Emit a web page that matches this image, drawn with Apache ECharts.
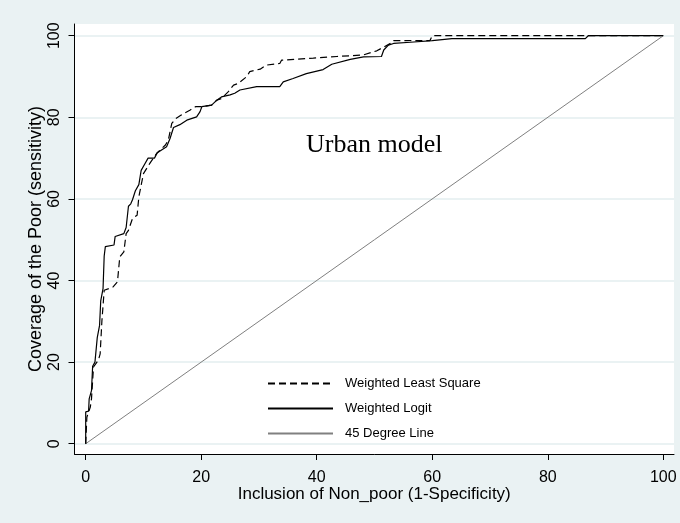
<!DOCTYPE html>
<html>
<head>
<meta charset="utf-8">
<script src="https://cdn.jsdelivr.net/npm/echarts@6/dist/echarts.min.js"></script>
<style>html,body{margin:0;padding:0;background:#eaf2f3;}#c{width:680px;height:523px;}</style>
</head>
<body>
<div id="c"></div>
<script>
const xTicks = [0, 20, 40, 60, 80, 100];
const yTicks = [0, 20, 40, 60, 80, 100];
const seriesNames = ['Weighted Least Square', 'Weighted Logit', '45 Degree Line'];

const wlsX = [0, 0.2, 0.8, 1, 1.35, 2.2, 2.5, 2.8, 3.2, 4.7, 5.5, 5.9, 6.6, 7, 7.4, 8.1, 8.9, 9.2, 10, 11.1, 12.3, 13.8, 14.3, 14.9, 15.6, 16.6, 18.1, 19, 20.1, 21.8, 22.7, 23.5, 24.7, 25.6, 26.4, 27.9, 28.4, 30.2, 31.3, 33.6, 33.9, 39.4, 43.5, 48.1, 50.4, 53, 53.3, 59.6, 60, 100];
const wlsY = [0, 6.5, 9, 11, 18.8, 20.5, 22, 30, 37.6, 38.4, 39.7, 45.8, 47, 51.5, 52.3, 55.2, 56, 60.5, 66.2, 68.7, 71.2, 73.2, 74.4, 78.5, 79.7, 80.6, 81.8, 82.6, 82.6, 83, 84.2, 84.6, 86.3, 87.9, 88.3, 90, 91.2, 91.8, 92.8, 93.2, 94, 94.5, 94.9, 95.3, 96.3, 98.3, 98.8, 98.8, 100, 100];

const logitX = [0, 0, 0.5, 0.6, 1, 1.2, 1.6, 2, 2.4, 2.6, 3, 3.2, 3.4, 4.9, 5.1, 6.6, 7, 7.4, 7.8, 8.1, 8.6, 9.2, 9.6, 10.2, 10.8, 11.9, 12.4, 14, 14.6, 15.2, 16.3, 17.5, 19.2, 19.8, 20.1, 21.8, 22.7, 23.5, 25, 25.8, 26.7, 29.6, 33.6, 34.2, 35.9, 38.2, 41.1, 42.6, 45.8, 48.1, 51.2, 51.6, 52.4, 53.3, 56.2, 60, 63.4, 86.5, 87, 100];
const logitY = [0, 7.8, 8, 11, 13, 19, 20, 26, 29, 35, 38, 46, 48.3, 48.7, 50.8, 51.5, 53, 58.2, 58.8, 59.8, 62, 63.5, 67, 68.5, 70, 70, 71.3, 72.8, 74.8, 77.5, 78.2, 79.3, 80.1, 81.4, 82.6, 83, 84.2, 85, 85.5, 85.9, 86.7, 87.5, 87.5, 88.7, 89.5, 90.7, 91.7, 93, 94.2, 94.8, 94.9, 96.5, 97.7, 98.1, 98.4, 98.8, 99.3, 99.3, 100, 100];

const diagX = [0, 100];
const diagY = [0, 100];

const zip = (xs, ys) => xs.map((x, i) => [x, ys[i]]);
const FONT = '"Liberation Sans", Arial, sans-serif';

const chart = echarts.init(document.getElementById('c'), null, {renderer: 'canvas'});
chart.setOption({
  backgroundColor: '#eaf2f3',
  animation: false,
  grid: {left: 74.5, right: 6, top: 24, bottom: 69, show: true, backgroundColor: '#ffffff', borderWidth: 0, containLabel: false},
  xAxis: {
    type: 'value', min: -1.94, max: 101.85,
    name: 'Inclusion of Non_poor (1-Specificity)', nameLocation: 'middle', nameGap: 32, nameMoveOverlap: false,
    nameTextStyle: {fontFamily: FONT, fontSize: 17, color: '#000'},
    axisLine: {show: true, onZero: false, lineStyle: {color: '#000', width: 1}},
    axisTick: {show: true, length: 6, inside: false, customValues: xTicks, lineStyle: {color: '#000'}},
    axisLabel: {customValues: xTicks, fontFamily: FONT, fontSize: 16, color: '#000', margin: 16},
    splitLine: {show: false}
  },
  yAxis: {
    type: 'value', min: -2.52, max: 102.87,
    name: 'Coverage of the Poor (sensitivity)', nameLocation: 'middle', nameGap: 29, nameMoveOverlap: false,
    nameTextStyle: {fontFamily: FONT, fontSize: 18, color: '#000'},
    axisLine: {show: true, onZero: false, lineStyle: {color: '#000', width: 1}},
    axisTick: {show: true, length: 6, inside: false, customValues: yTicks, lineStyle: {color: '#000'}},
    axisLabel: {customValues: yTicks, rotate: 90, fontFamily: FONT, fontSize: 16, color: '#000', margin: 12},
    splitLine: {show: true, lineStyle: {color: '#eaf2f3', width: 2}}
  },
  legend: {
    orient: 'vertical', left: 262, top: 372, itemWidth: 65, itemHeight: 14, itemGap: 12,
    data: seriesNames,
    itemStyle: {opacity: 0},
    textStyle: {fontFamily: FONT, fontSize: 13, color: '#000', padding: [0, 0, 0, 7]}
  },
  graphic: [{
    type: 'text', left: 306, top: 132,
    style: {text: 'Urban model', font: '26px "Liberation Serif", "Times New Roman", serif', fill: '#000'}
  }],
  series: [
    {name: seriesNames[0], type: 'line', symbol: 'none', data: zip(wlsX, wlsY),
     lineStyle: {color: '#000', width: 1.2, type: [7, 4]}, itemStyle: {color: '#000'}, z: 3},
    {name: seriesNames[1], type: 'line', symbol: 'none', data: zip(logitX, logitY),
     lineStyle: {color: '#000', width: 1.2}, itemStyle: {color: '#000'}, z: 4},
    {name: seriesNames[2], type: 'line', symbol: 'none', data: zip(diagX, diagY),
     lineStyle: {color: '#808080', width: 1}, itemStyle: {color: '#808080'}, z: 2}
  ]
});
</script>
</body>
</html>
